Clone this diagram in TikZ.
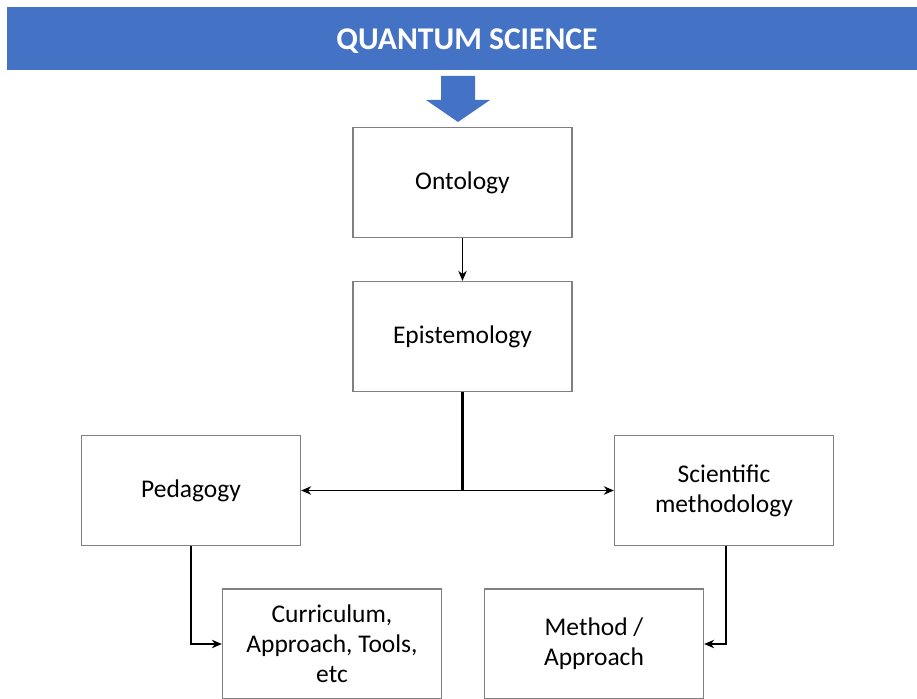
\documentclass[tikz,border=0pt]{standalone}
\usepackage{fontspec}
\setmainfont{Carlito}
\usetikzlibrary{arrows.meta,positioning,calc}
\definecolor{bannerblue}{RGB}{68,114,196}
\definecolor{boxgray}{RGB}{128,128,128}

\begin{document}
\begin{tikzpicture}[
    box/.style={draw=boxgray, line width=0.8pt, minimum width=4.38cm,
      minimum height=2.2cm, align=center,
      font=\fontsize{14.5}{17}\selectfont},
    link/.style={draw=black, line width=0.6pt},
    tip/.style={-{Stealth[length=2mm,width=1.7mm]}}
  ]
    % Frame
    \useasboundingbox (0,0) rectangle (18.34,-13.98);

    % Banner
    \fill[bannerblue] (0.14,-0.14) rectangle (18.6,-1.4);
    \node[text=white, font=\fontsize{18}{21}\selectfont\bfseries]
      (title) at (9.34,-0.82) {QUANTUM SCIENCE};

    % Block arrow
    \fill[bannerblue] (8.82,-1.52) -- (9.50,-1.52) -- (9.50,-2.0)
      -- (9.80,-2.0) -- (9.16,-2.44) -- (8.52,-2.0) -- (8.82,-2.0) -- cycle;

    % Boxes
    \node[box] (ont) at (9.25,-3.65) {Ontology};
    \node[box] (epi) at (9.25,-6.73) {Epistemology};
    \node[box] (ped) at (3.82,-9.81) {Pedagogy};
    \node[box] (sci) at (14.48,-9.81) {Scientific\\methodology};
    \node[box] (cur) at (6.64,-12.88) {Curriculum,\\Approach, Tools,\\etc};
    \node[box] (met) at (11.88,-12.88) {Method /\\Approach};

    % Ontology to epistemology
    \draw[link, tip] (ont) -- (epi);

    % Epistemology splits
    \coordinate (split) at (epi.south |- ped.east);
    \draw[link, line width=1.3pt] (epi.south) -- (split);
    \draw[link, tip] (split) -- (ped.east);
    \draw[link, tip] (split) -- (sci.west);

    % Down to the bottom row
    \draw[link, tip] (ped.south) |- (cur.west);
    \draw[link, tip] ([xshift=0.04cm]sci.south) |- (met.east);
  \end{tikzpicture}
\end{document}
